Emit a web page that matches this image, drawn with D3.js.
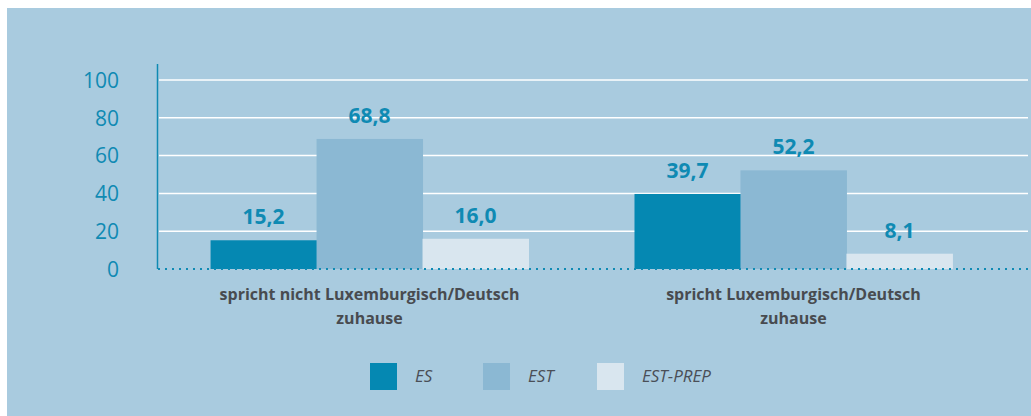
<!DOCTYPE html>
<html><head><meta charset="utf-8">
<script src="https://cdn.jsdelivr.net/npm/d3@7"></script>
<style>
html,body{margin:0;padding:0;background:#fff;}
svg{display:block;font-family:"Open Sans",sans-serif;}
</style></head><body>
<svg id="chart" width="1031" height="416"></svg>
<script>
const categories = ["spricht nicht Luxemburgisch/Deutsch|zuhause", "spricht Luxemburgisch/Deutsch|zuhause"];
const seriesNames = ["ES", "EST", "EST-PREP"];
const esValues = [15.2, 39.7];
const estValues = [68.8, 52.2];
const estPrepValues = [16.0, 8.1];
const yTicks = [0, 20, 40, 60, 80, 100];
const colors = ["#0588b2", "#8bb8d3", "#d9e6ef"];

const seriesValues = [esValues, estValues, estPrepValues];
const svg = d3.select("#chart");
svg.append("rect").attr("x",7).attr("y",8).attr("width",1024).attr("height",408).attr("fill","#a9cbdf");

const y = d3.scaleLinear().domain([0,100]).range([269,80]);
const x0 = d3.scaleBand().domain(categories).range([158,1005]).paddingInner(0.25).paddingOuter(0.124);
const x1 = d3.scaleBand().domain(seriesNames).range([0,x0.bandwidth()]);

// grid
svg.append("g").selectAll("line").data(yTicks.filter(d=>d>0)).join("line")
  .attr("x1",159).attr("x2",1028).attr("y1",d=>y(d)).attr("y2",d=>y(d))
  .attr("stroke","#ffffff").attr("stroke-width",1.5);

// y axis
const yAxis = d3.axisLeft(y).tickValues(yTicks).tickSize(0).tickPadding(0).tickFormat(d3.format("d"));
const ya = svg.append("g").attr("transform","translate(119,0)").call(yAxis);
ya.select(".domain").remove();
ya.selectAll("text").attr("fill","#0f8ab3").attr("font-size",21).attr("dy","0.35em").attr("font-family","'Open Sans',sans-serif");
svg.append("line").attr("x1",157.5).attr("x2",157.5).attr("y1",64).attr("y2",269)
  .attr("stroke","#0f8ab3").attr("stroke-width",1.5);

// bars
const groups = svg.append("g").selectAll("g").data(categories).join("g")
  .attr("transform",d=>`translate(${x0(d)},0)`);
groups.each(function(cat,ci){
  const g = d3.select(this);
  seriesNames.forEach((s,si)=>{
    const v = seriesValues[si][ci];
    g.append("rect").attr("x",x1(s)).attr("width",x1.bandwidth()+0.5)
      .attr("y",y(v)).attr("height",y(0)-y(v)).attr("fill",colors[si]);
    g.append("text").attr("x",x1(s)+x1.bandwidth()/2).attr("y",y(v)-16)
      .attr("text-anchor","middle").attr("font-size",21).attr("font-weight","bold")
      .attr("fill","#0f8ab3").text(d3.format(".1f")(v).replace(".",","));
  });
  const lines = cat.split("|");
  lines.forEach((l,li)=>{
    g.append("text").attr("x",x0.bandwidth()/2).attr("y",300+li*24)
      .attr("text-anchor","middle").attr("font-size",16).attr("font-weight","bold")
      .attr("fill","#484b50").text(l);
  });
});

// dotted baseline
svg.append("line").attr("x1",158).attr("x2",1028).attr("y1",269).attr("y2",269)
  .attr("stroke","#0f8ab3").attr("stroke-width",2).attr("stroke-dasharray","2,5");

// legend
const legX = [370, 483, 597];
const leg = svg.append("g");
seriesNames.forEach((s,i)=>{
  leg.append("rect").attr("x",legX[i]).attr("y",363).attr("width",27).attr("height",27).attr("fill",colors[i]);
  leg.append("text").attr("x",legX[i]+45).attr("y",382).attr("font-size",17).attr("font-style","italic")
    .attr("fill","#4a4f57").text(s);
});
</script>
</body></html>
